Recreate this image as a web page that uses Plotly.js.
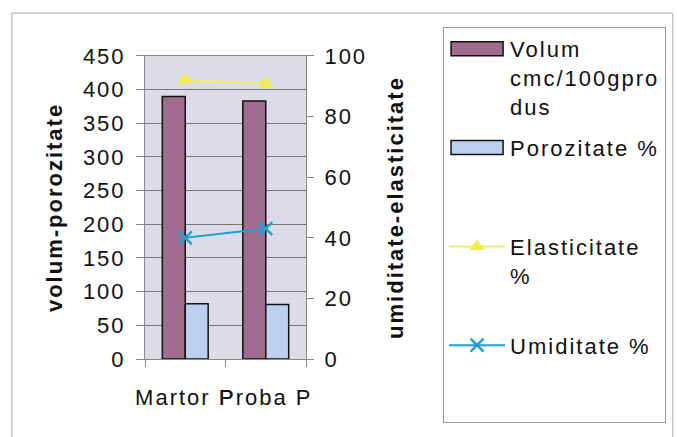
<!DOCTYPE html>
<html>
<head>
<meta charset="utf-8">
<script src="https://cdn.plot.ly/plotly-3.0.1.min.js"></script>
<style>
html,body{margin:0;padding:0;background:#fff;}
#chart{width:677px;height:437px;}
svg text{letter-spacing:2px;}
#chart g.legendpoints path:not(.scatterpts){d:path('M26,7H-26V-7H26Z');}
</style>
</head>
<body>
<div id="chart"></div>
<script>
var categories = ['Martor P', 'Proba P'];
var volum = [390, 383];
var porozitate = [82, 81];
var elasticitate = [92, 91];
var umiditate = [40, 43];
var seriesNames = ['Volum<br>cmc/100gpro<br>dus', 'Porozitate %<br> <br> ', 'Elasticitate<br>%<br> ', 'Umiditate %<br> <br> '];
var leftTicks = [0, 50, 100, 150, 200, 250, 300, 350, 400, 450];
var rightTicks = [0, 20, 40, 60, 80, 100];

var FONT = 'Liberation Sans, Arial, sans-serif';

var traces = [
  {type: 'bar', name: seriesNames[0], legendgroup: 'g1', x: categories, y: volum,
   marker: {color: '#a06c8e', line: {color: '#111', width: 1.5}}},
  {type: 'bar', name: seriesNames[1], legendgroup: 'g2', x: categories, y: porozitate,
   marker: {color: '#bccfef', line: {color: '#111', width: 1.5}}},
  {type: 'scatter', mode: 'lines+markers', name: seriesNames[2], legendgroup: 'g3', x: categories, y: elasticitate, yaxis: 'y2',
   line: {color: '#f2ee6a', width: 2}, marker: {symbol: 'triangle-up', size: 14, color: '#f0ec50'}},
  {type: 'scatter', mode: 'lines+markers', name: seriesNames[3], legendgroup: 'g4', x: categories, y: umiditate, yaxis: 'y2',
   line: {color: '#1f9fd4', width: 2}, marker: {symbol: 'x-thin-open', size: 13, color: '#1f9fd4', line: {color: '#1f9fd4', width: 2.5}}}
];

var layout = {
  width: 677, height: 437,
  margin: {l: 145, r: 370, t: 27, b: 14},
  paper_bgcolor: '#ffffff',
  plot_bgcolor: '#dcdce8',
  font: {family: FONT, size: 22, color: '#111'},
  barmode: 'group',
  bargap: 0.43,
  bargroupgap: 0,
  showlegend: true,
  legend: {
    x: 1.84, xanchor: 'left', y: 1, yanchor: 'top',
    bgcolor: '#ffffff', bordercolor: '#999', borderwidth: 1,
    font: {family: FONT, size: 22, color: '#111'},
    valign: 'top', itemwidth: 56, tracegroupgap: 10,
    traceorder: 'grouped'
  },
  xaxis: {
    type: 'category', tickson: 'boundaries', ticks: 'outside', ticklen: 7, tickcolor: '#888',
    showline: true, linecolor: '#888', mirror: true, showgrid: false, tickangle: 0,
    ticklabelstandoff: 19, tickfont: {size: 22}
  },
  yaxis: {
    domain: [0.1616, 0.9268],
    range: [0, 450], tickvals: leftTicks, ticks: 'outside', ticklen: 8, tickcolor: '#888',
    showline: true, linecolor: '#888', gridcolor: '#777', gridwidth: 1, zeroline: false,
    ticklabelstandoff: 6, tickfont: {size: 22},
    title: {text: '<b>volum-porozitate</b>', font: {size: 22}, standoff: 14}
  },
  yaxis2: {
    domain: [0.1616, 0.9268],
    range: [0, 100], tickvals: rightTicks, overlaying: 'y', side: 'right',
    ticks: 'outside', ticklen: 7, tickcolor: '#888', showgrid: false, zeroline: false,
    showline: true, linecolor: '#888', ticklabelstandoff: 6, tickfont: {size: 22},
    title: {text: '<b>umiditate-elasticitate</b>', font: {size: 22}, standoff: 21}
  },
  shapes: [
    {type: 'rect', xref: 'paper', yref: 'paper', x0: -0.827, x1: 3.278, y0: -0.068, y1: 1.035,
     line: {color: '#aaa', width: 1}, fillcolor: 'rgba(0,0,0,0)', layer: 'below'}
  ]
};

Plotly.newPlot('chart', traces, layout, {displayModeBar: false, staticPlot: true});
</script>
</body>
</html>
